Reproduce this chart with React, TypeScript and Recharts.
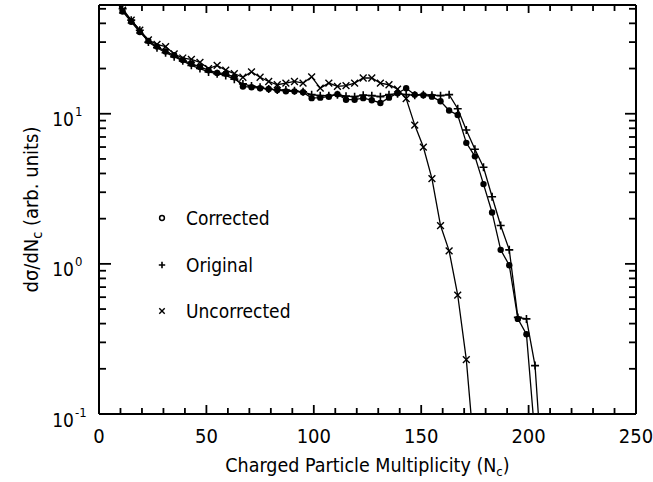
import { Legend, Line, LineChart, XAxis, YAxis } from 'recharts'

const FONT = "'Liberation Sans Narrow', 'DejaVu Sans Condensed', 'Arial Narrow', sans-serif"

// charged particle multiplicity bins
const nc = [
  7, 11, 15, 19, 23, 27, 31, 35, 39, 43, 47,
  51, 55, 59, 63, 67, 71, 75, 79, 83, 87,
  91, 95, 99, 103, 107, 111, 115, 119, 123, 127,
  131, 135, 139, 143, 147, 151, 155, 159, 163, 167,
  171, 175, 179, 183, 187, 191, 195, 199, 203, 207,
]

const corrected = [
  60, 48, 41, 35, 30.5, 28, 26, 24.5, 22.8, 21.5, 20.5,
  19.5, 18.7, 18.5, 17.5, 15.2, 15, 14.8, 14.6, 14.4, 14.1,
  14.1, 13.9, 12.7, 12.8, 13.0, 13.5, 12.4, 12.4, 12.7, 12.3,
  11.8, 12.8, 13.7, 14.8, 13.4, 13.3, 13.0, 12.1, 10.5, 9.8,
  6.4, 5.2, 3.4, 2.2, 1.24, 0.98, 0.43, 0.34, 0.07,
]

const original = [
  62, 50, 42, 36, 30, 27.5, 25.5, 24, 22.5, 21, 20,
  19, 18.5, 18, 17, 15.8, 15.3, 15, 14.6, 14.4, 14.4,
  14.2, 14, 13.4, 13.2, 13.2, 13.4, 13.1, 13.0, 13.3, 13.2,
  13.0, 13.4, 13.6, 13.4, 13.3, 13.4, 13.3, 13.2, 13.4, 10.8,
  7.8, 5.8, 4.4, 2.8, 1.8, 1.24, 0.44, 0.43, 0.21, 0.03,
]

const uncorrected = [
  61, 49, 42, 36, 31, 29, 28, 25, 23.5, 23, 22,
  20, 21, 19.5, 18.5, 17.5, 19, 17.5, 16.4, 15.6, 16,
  16.4, 16, 17.6, 14.8, 16, 15.2, 15.4, 16, 17.3, 17.3,
  16, 15.6, 14.6, 12.6, 8.4, 6.0, 3.7, 1.8, 1.22, 0.62,
  0.23, 0.05,
]

const xTicks = [0, 10, 20, 30, 40, 50, 60, 70, 80, 90, 100, 110, 120, 130, 140, 150, 160, 170, 180, 190, 200, 210, 220, 230, 240, 250]
const xLabels = [0, 50, 100, 150, 200, 250]
const yTicks = [
  0.1, 0.2, 0.3, 0.4, 0.5, 0.6, 0.7, 0.8, 0.9,
  1, 2, 3, 4, 5, 6, 7, 8, 9,
  10, 20, 30, 40, 50,
]
const yDecades = [0.1, 1, 10]
const yExponents = ['-1', '0', '1']

const series = [
  { key: 'corrected', name: 'Corrected' },
  { key: 'original', name: 'Original' },
  { key: 'uncorrected', name: 'Uncorrected' },
]

const rows = nc.map((n, i) => ({
  nc: n,
  corrected: corrected[i] ?? null,
  original: original[i] ?? null,
  uncorrected: uncorrected[i] ?? null,
}))

function Mark({ kind, cx, cy, size = 1, hollow = false }: { kind: string; cx: number; cy: number; size?: number; hollow?: boolean }) {
  if (kind === 'corrected')
    return hollow ? (
      <circle cx={cx} cy={cy} r={2.4} fill="#fff" stroke="#000" strokeWidth={1.5} />
    ) : (
      <circle cx={cx} cy={cy} r={3.2 * size} fill="#000" />
    )
  if (kind === 'original') {
    const a = 4 * size
    return <path d={`M${cx - a},${cy}H${cx + a}M${cx},${cy - a}V${cy + a}`} stroke="#000" strokeWidth={1.6} />
  }
  const a = 3.4 * size
  return (
    <path
      d={`M${cx - a},${cy - a}L${cx + a},${cy + a}M${cx - a},${cy + a}L${cx + a},${cy - a}`}
      stroke="#000"
      strokeWidth={1.4}
    />
  )
}

const makeDot = (kind: string) => (p: any) => {
  const v = p.payload ? p.payload[kind] : null
  if (v == null || v < 0.1 || v > 53 || p.cx == null || p.cy == null) return <g key={`${kind}-${p.index}`} />
  return (
    <g key={`${kind}-${p.index}`}>
      <Mark kind={kind} cx={p.cx} cy={p.cy} />
    </g>
  )
}

// ticks point into the plot, on all four sides
const BottomTick = (p: any) => {
  const major = xLabels.includes(p.payload.value)
  return (
    <g>
      <line x1={p.x} x2={p.x} y1={p.y} y2={p.y - (major ? 9 : 6)} stroke="#000" strokeWidth={1.8} />
      {major && (
        <text x={p.x} y={p.y + 23} textAnchor="middle" dominantBaseline="middle" fontSize={20} fontFamily={FONT} fill="#000">
          {p.payload.value}
        </text>
      )}
    </g>
  )
}

const TopTick = (p: any) => {
  const major = xLabels.includes(p.payload.value)
  return <line x1={p.x} x2={p.x} y1={p.y} y2={p.y + (major ? 8 : 6)} stroke="#000" strokeWidth={1.8} />
}

const LeftTick = (p: any) => {
  const idx = yDecades.indexOf(p.payload.value)
  return (
    <g>
      <line x1={p.x} x2={p.x + (idx >= 0 ? 12 : 7)} y1={p.y} y2={p.y} stroke="#000" strokeWidth={1.8} />
      {idx >= 0 && (
        <text x={p.x - 25} y={p.y + 7} textAnchor="end" dominantBaseline="middle" fontSize={19} fontFamily={FONT} fill="#000">
          10
        </text>
      )}
      {idx >= 0 && (
        <text x={p.x - 24} y={p.y - 1} textAnchor="start" dominantBaseline="middle" fontSize={13} fontFamily={FONT} fill="#000">
          {yExponents[idx]}
        </text>
      )}
    </g>
  )
}

const RightTick = (p: any) => {
  const major = yDecades.includes(p.payload.value)
  return <line x1={p.x} x2={p.x - (major ? 11 : 7)} y1={p.y} y2={p.y} stroke="#000" strokeWidth={1.8} />
}

const XTitle = (p: any) => {
  const vb = p.viewBox
  return (
    <text x={vb.x + vb.width / 2} y={vb.y + 58} textAnchor="middle" fontSize={19.5} fontFamily={FONT} fill="#000">
      Charged Particle Multiplicity (N
      <tspan dy={4} fontSize={13}>
        c
      </tspan>
      <tspan dy={-4}>)</tspan>
    </text>
  )
}

const YTitle = (p: any) => {
  const vb = p.viewBox
  const cx = vb.x + 38
  const cy = vb.y + vb.height / 2
  return (
    <text x={cx} y={cy} transform={`rotate(-90 ${cx} ${cy})`} textAnchor="middle" fontSize={20} fontFamily={FONT} fill="#000">
      dσ/dN
      <tspan dy={4} fontSize={14}>
        c
      </tspan>
      <tspan dy={-4}> (arb. units)</tspan>
    </text>
  )
}

const LegendBox = () => (
  <div style={{ fontFamily: FONT, fontSize: 19, color: '#000' }}>
    {series.map((s) => (
      <div key={s.key} style={{ display: 'flex', alignItems: 'center', height: 46.5 }}>
        <svg width={24} height={20} style={{ marginRight: 10 }}>
          <Mark kind={s.key} cx={10} cy={10} size={0.8} hollow />
        </svg>
        <span>{s.name}</span>
      </div>
    ))}
  </div>
)

export default function App() {
  return (
    <div style={{ position: 'absolute', left: 0, top: 0, background: '#fff' }}>
      <LineChart width={653} height={482} data={rows} margin={{ top: 4, right: 16, bottom: 0, left: 0 }}>
        <XAxis
          dataKey="nc"
          type="number"
          domain={[0, 250]}
          allowDataOverflow
          ticks={xTicks}
          interval={0}
          tickSize={0}
          tickMargin={0}
          tick={BottomTick}
          height={68}
          axisLine={{ stroke: '#000', strokeWidth: 2 }}
          tickLine={false}
          label={XTitle}
        />
        <XAxis
          xAxisId="top"
          orientation="top"
          dataKey="nc"
          type="number"
          domain={[0, 250]}
          allowDataOverflow
          ticks={xTicks}
          interval={0}
          tickSize={0}
          tickMargin={0}
          tick={TopTick}
          height={1}
          axisLine={{ stroke: '#000', strokeWidth: 2 }}
          tickLine={false}
        />
        <YAxis
          type="number"
          scale="log"
          domain={[0.1, 53]}
          allowDataOverflow
          ticks={yTicks}
          interval={0}
          tickSize={0}
          tickMargin={0}
          tick={LeftTick}
          width={99}
          axisLine={{ stroke: '#000', strokeWidth: 2 }}
          tickLine={false}
          label={YTitle}
        />
        <YAxis
          yAxisId="right"
          orientation="right"
          type="number"
          scale="log"
          domain={[0.1, 53]}
          allowDataOverflow
          ticks={yTicks}
          interval={0}
          tickSize={0}
          tickMargin={0}
          tick={RightTick}
          width={1}
          axisLine={{ stroke: '#000', strokeWidth: 2 }}
          tickLine={false}
        />
        <Legend
          layout="vertical"
          align="center"
          verticalAlign="middle"
          content={LegendBox}
          wrapperStyle={{ position: 'absolute', left: 152, top: 195, width: 160 }}
        />
        {series.map((s) => (
          <Line
            key={s.key}
            dataKey={s.key}
            name={s.name}
            type="linear"
            stroke="#000"
            strokeWidth={1.3}
            dot={makeDot(s.key)}
            activeDot={false}
            isAnimationActive={false}
          />
        ))}
      </LineChart>
    </div>
  )
}
